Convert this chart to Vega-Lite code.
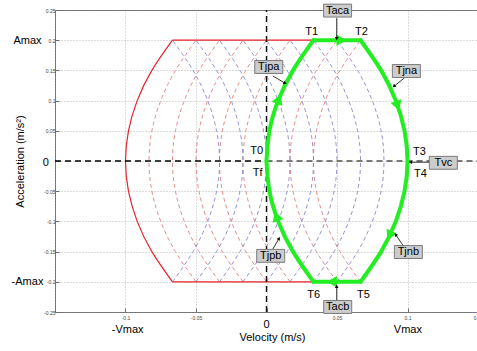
{
  "$schema": "https://vega.github.io/schema/vega-lite/v6.json",
  "width": 423,
  "height": 302,
  "autosize": "none",
  "padding": {"left": 55, "top": 10, "right": 0, "bottom": 39},
  "background": "white",
  "config": {
    "font": "Liberation Sans",
    "view": {"stroke": "#6e6e6e", "strokeWidth": 1}
  },
  "datasets": {
    "reds": [
      {"c": "r1", "a": -0.2, "v": -0.05}, {"c": "r1", "a": -0.15, "v": -0.0646}, {"c": "r1", "a": -0.1, "v": -0.075}, {"c": "r1", "a": -0.05, "v": -0.0813}, {"c": "r1", "a": 0, "v": -0.0833}, {"c": "r1", "a": 0.05, "v": -0.0813}, {"c": "r1", "a": 0.1, "v": -0.075}, {"c": "r1", "a": 0.15, "v": -0.0646}, {"c": "r1", "a": 0.2, "v": -0.05},
      {"c": "r2", "a": -0.2, "v": -0.0333}, {"c": "r2", "a": -0.15, "v": -0.0479}, {"c": "r2", "a": -0.1, "v": -0.0583}, {"c": "r2", "a": -0.05, "v": -0.0646}, {"c": "r2", "a": 0, "v": -0.0667}, {"c": "r2", "a": 0.05, "v": -0.0646}, {"c": "r2", "a": 0.1, "v": -0.0583}, {"c": "r2", "a": 0.15, "v": -0.0479}, {"c": "r2", "a": 0.2, "v": -0.0333},
      {"c": "r3", "a": -0.2, "v": -0.0167}, {"c": "r3", "a": -0.15, "v": -0.0313}, {"c": "r3", "a": -0.1, "v": -0.0417}, {"c": "r3", "a": -0.05, "v": -0.0479}, {"c": "r3", "a": 0, "v": -0.05}, {"c": "r3", "a": 0.05, "v": -0.0479}, {"c": "r3", "a": 0.1, "v": -0.0417}, {"c": "r3", "a": 0.15, "v": -0.0313}, {"c": "r3", "a": 0.2, "v": -0.0167},
      {"c": "r4", "a": -0.2, "v": 0}, {"c": "r4", "a": -0.15, "v": -0.0146}, {"c": "r4", "a": -0.1, "v": -0.025}, {"c": "r4", "a": -0.05, "v": -0.0313}, {"c": "r4", "a": 0, "v": -0.0333}, {"c": "r4", "a": 0.05, "v": -0.0313}, {"c": "r4", "a": 0.1, "v": -0.025}, {"c": "r4", "a": 0.15, "v": -0.0146}, {"c": "r4", "a": 0.2, "v": 0},
      {"c": "r5", "a": -0.2, "v": 0.0167}, {"c": "r5", "a": -0.15, "v": 0.0021}, {"c": "r5", "a": -0.1, "v": -0.0083}, {"c": "r5", "a": -0.05, "v": -0.0146}, {"c": "r5", "a": 0, "v": -0.0167}, {"c": "r5", "a": 0.05, "v": -0.0146}, {"c": "r5", "a": 0.1, "v": -0.0083}, {"c": "r5", "a": 0.15, "v": 0.0021}, {"c": "r5", "a": 0.2, "v": 0.0167},
      {"c": "r6", "a": -0.2, "v": 0.0333}, {"c": "r6", "a": -0.15, "v": 0.0188}, {"c": "r6", "a": -0.1, "v": 0.0083}, {"c": "r6", "a": -0.05, "v": 0.0021}, {"c": "r6", "a": 0, "v": 0}, {"c": "r6", "a": 0.05, "v": 0.0021}, {"c": "r6", "a": 0.1, "v": 0.0083}, {"c": "r6", "a": 0.15, "v": 0.0188}, {"c": "r6", "a": 0.2, "v": 0.0333},
      {"c": "r7", "a": -0.2, "v": 0.05}, {"c": "r7", "a": -0.15, "v": 0.0354}, {"c": "r7", "a": -0.1, "v": 0.025}, {"c": "r7", "a": -0.05, "v": 0.0188}, {"c": "r7", "a": 0, "v": 0.0167}, {"c": "r7", "a": 0.05, "v": 0.0188}, {"c": "r7", "a": 0.1, "v": 0.025}, {"c": "r7", "a": 0.15, "v": 0.0354}, {"c": "r7", "a": 0.2, "v": 0.05},
      {"c": "r8", "a": -0.2, "v": 0.0667}, {"c": "r8", "a": -0.15, "v": 0.0521}, {"c": "r8", "a": -0.1, "v": 0.0417}, {"c": "r8", "a": -0.05, "v": 0.0354}, {"c": "r8", "a": 0, "v": 0.0333}, {"c": "r8", "a": 0.05, "v": 0.0354}, {"c": "r8", "a": 0.1, "v": 0.0417}, {"c": "r8", "a": 0.15, "v": 0.0521}, {"c": "r8", "a": 0.2, "v": 0.0667}
    ],
    "blues": [
      {"c": "b1", "a": -0.2, "v": -0.0667}, {"c": "b1", "a": -0.15, "v": -0.0521}, {"c": "b1", "a": -0.1, "v": -0.0417}, {"c": "b1", "a": -0.05, "v": -0.0354}, {"c": "b1", "a": 0, "v": -0.0333}, {"c": "b1", "a": 0.05, "v": -0.0354}, {"c": "b1", "a": 0.1, "v": -0.0417}, {"c": "b1", "a": 0.15, "v": -0.0521}, {"c": "b1", "a": 0.2, "v": -0.0667},
      {"c": "b2", "a": -0.2, "v": -0.05}, {"c": "b2", "a": -0.15, "v": -0.0354}, {"c": "b2", "a": -0.1, "v": -0.025}, {"c": "b2", "a": -0.05, "v": -0.0188}, {"c": "b2", "a": 0, "v": -0.0167}, {"c": "b2", "a": 0.05, "v": -0.0188}, {"c": "b2", "a": 0.1, "v": -0.025}, {"c": "b2", "a": 0.15, "v": -0.0354}, {"c": "b2", "a": 0.2, "v": -0.05},
      {"c": "b3", "a": -0.2, "v": -0.0333}, {"c": "b3", "a": -0.15, "v": -0.0188}, {"c": "b3", "a": -0.1, "v": -0.0083}, {"c": "b3", "a": -0.05, "v": -0.0021}, {"c": "b3", "a": 0, "v": 0}, {"c": "b3", "a": 0.05, "v": -0.0021}, {"c": "b3", "a": 0.1, "v": -0.0083}, {"c": "b3", "a": 0.15, "v": -0.0188}, {"c": "b3", "a": 0.2, "v": -0.0333},
      {"c": "b4", "a": -0.2, "v": -0.0167}, {"c": "b4", "a": -0.15, "v": -0.0021}, {"c": "b4", "a": -0.1, "v": 0.0083}, {"c": "b4", "a": -0.05, "v": 0.0146}, {"c": "b4", "a": 0, "v": 0.0167}, {"c": "b4", "a": 0.05, "v": 0.0146}, {"c": "b4", "a": 0.1, "v": 0.0083}, {"c": "b4", "a": 0.15, "v": -0.0021}, {"c": "b4", "a": 0.2, "v": -0.0167},
      {"c": "b5", "a": -0.2, "v": 0}, {"c": "b5", "a": -0.15, "v": 0.0146}, {"c": "b5", "a": -0.1, "v": 0.025}, {"c": "b5", "a": -0.05, "v": 0.0313}, {"c": "b5", "a": 0, "v": 0.0333}, {"c": "b5", "a": 0.05, "v": 0.0313}, {"c": "b5", "a": 0.1, "v": 0.025}, {"c": "b5", "a": 0.15, "v": 0.0146}, {"c": "b5", "a": 0.2, "v": 0},
      {"c": "b6", "a": -0.2, "v": 0.0167}, {"c": "b6", "a": -0.15, "v": 0.0313}, {"c": "b6", "a": -0.1, "v": 0.0417}, {"c": "b6", "a": -0.05, "v": 0.0479}, {"c": "b6", "a": 0, "v": 0.05}, {"c": "b6", "a": 0.05, "v": 0.0479}, {"c": "b6", "a": 0.1, "v": 0.0417}, {"c": "b6", "a": 0.15, "v": 0.0313}, {"c": "b6", "a": 0.2, "v": 0.0167},
      {"c": "b7", "a": -0.2, "v": 0.0333}, {"c": "b7", "a": -0.15, "v": 0.0479}, {"c": "b7", "a": -0.1, "v": 0.0583}, {"c": "b7", "a": -0.05, "v": 0.0646}, {"c": "b7", "a": 0, "v": 0.0667}, {"c": "b7", "a": 0.05, "v": 0.0646}, {"c": "b7", "a": 0.1, "v": 0.0583}, {"c": "b7", "a": 0.15, "v": 0.0479}, {"c": "b7", "a": 0.2, "v": 0.0333},
      {"c": "b8", "a": -0.2, "v": 0.05}, {"c": "b8", "a": -0.15, "v": 0.0646}, {"c": "b8", "a": -0.1, "v": 0.075}, {"c": "b8", "a": -0.05, "v": 0.0813}, {"c": "b8", "a": 0, "v": 0.0833}, {"c": "b8", "a": 0.05, "v": 0.0813}, {"c": "b8", "a": 0.1, "v": 0.075}, {"c": "b8", "a": 0.15, "v": 0.0646}, {"c": "b8", "a": 0.2, "v": 0.05}
    ],
    "envelope": [
      {"c": "left", "a": -0.2, "v": -0.0667}, {"c": "left", "a": -0.15, "v": -0.0813}, {"c": "left", "a": -0.1, "v": -0.0917}, {"c": "left", "a": -0.05, "v": -0.0979}, {"c": "left", "a": 0, "v": -0.1}, {"c": "left", "a": 0.05, "v": -0.0979}, {"c": "left", "a": 0.1, "v": -0.0917}, {"c": "left", "a": 0.15, "v": -0.0813}, {"c": "left", "a": 0.2, "v": -0.0667},
      {"c": "top", "a": 0.2, "v": -0.0667}, {"c": "top", "a": 0.2, "v": 0.0667},
      {"c": "bottom", "a": -0.2, "v": -0.0667}, {"c": "bottom", "a": -0.2, "v": 0.0667}
    ],
    "trajectory": [
      {"c": "s1", "a": 0, "v": 0}, {"c": "s1", "a": 0.05, "v": 0.0021}, {"c": "s1", "a": 0.1, "v": 0.0083}, {"c": "s1", "a": 0.15, "v": 0.0188}, {"c": "s1", "a": 0.2, "v": 0.0333},
      {"c": "s2", "a": 0.2, "v": 0.0333}, {"c": "s2", "a": 0.2, "v": 0.0667},
      {"c": "s3", "a": 0.2, "v": 0.0667}, {"c": "s3", "a": 0.15, "v": 0.0813}, {"c": "s3", "a": 0.1, "v": 0.0917}, {"c": "s3", "a": 0.05, "v": 0.0979}, {"c": "s3", "a": 0, "v": 0.1}, {"c": "s3", "a": -0.05, "v": 0.0979}, {"c": "s3", "a": -0.1, "v": 0.0917}, {"c": "s3", "a": -0.15, "v": 0.0813}, {"c": "s3", "a": -0.2, "v": 0.0667},
      {"c": "s4", "a": -0.2, "v": 0.0667}, {"c": "s4", "a": -0.2, "v": 0.0333},
      {"c": "s5", "a": -0.2, "v": 0.0333}, {"c": "s5", "a": -0.15, "v": 0.0188}, {"c": "s5", "a": -0.1, "v": 0.0083}, {"c": "s5", "a": -0.05, "v": 0.0021}, {"c": "s5", "a": 0, "v": 0}
    ],
    "axesLines": [
      {"k": "left", "v": -0.15, "v2": 0, "a": 0, "a2": 0},
      {"k": "right", "v": 0, "v2": 0.15, "a": 0, "a2": 0},
      {"k": "vertical", "v": 0, "v2": 0, "a": -0.25, "a2": 0.25}
    ],
    "heads": [
      {"v": 0.0083, "a": 0.1, "ang": 21},
      {"v": 0.052, "a": 0.2, "ang": 90},
      {"v": 0.0926, "a": 0.094, "ang": 160},
      {"v": 0.0878, "a": -0.121, "ang": 205},
      {"v": 0.0476, "a": -0.2, "ang": 270},
      {"v": 0.0074, "a": -0.094, "ang": 340}
    ],
    "pointers": [
      {"v": 0.0498, "a": 0.2368, "v2": 0.0498, "a2": 0.2037, "ang": 180},
      {"v": 0.0045, "a": 0.1408, "v2": 0.0129, "a2": 0.1292, "ang": 120},
      {"v": 0.0978, "a": 0.1375, "v2": 0.0907, "a2": 0.1242, "ang": 231},
      {"v": 0.1169, "a": -0.002, "v2": 0.1025, "a2": -0.002, "ang": 270},
      {"v": 0.0976, "a": -0.1424, "v2": 0.0918, "a2": -0.1225, "ang": 324},
      {"v": 0.0498, "a": -0.2318, "v2": 0.0498, "a2": -0.2086, "ang": 0},
      {"v": 0.0045, "a": -0.1457, "v2": 0.0087, "a2": -0.1291, "ang": 31}
    ],
    "boxes": [
      {"t": "Taca", "v": 0.0504, "a": 0.249},
      {"t": "Tjpa", "v": 0.0016, "a": 0.1556},
      {"t": "Tjna", "v": 0.0992, "a": 0.149},
      {"t": "Tvc", "v": 0.1254, "a": -0.003},
      {"t": "Tjnb", "v": 0.1006, "a": -0.1507},
      {"t": "Tacb", "v": 0.0505, "a": -0.2417},
      {"t": "Tjpb", "v": 0.003, "a": -0.157}
    ],
    "labels": [
      {"t": "T0", "v": -0.0069, "a": 0.0166},
      {"t": "Tf", "v": -0.0062, "a": -0.0199},
      {"t": "T1", "v": 0.032, "a": 0.2136},
      {"t": "T2", "v": 0.0674, "a": 0.2136},
      {"t": "T3", "v": 0.1084, "a": 0.0149},
      {"t": "T4", "v": 0.1091, "a": -0.0215},
      {"t": "T5", "v": 0.0688, "a": -0.2219},
      {"t": "T6", "v": 0.0334, "a": -0.2219},
      {"t": "Amax", "v": -0.1695, "a": 0.199},
      {"t": "0", "v": -0.1566, "a": -0.004},
      {"t": "-Amax", "v": -0.1695, "a": -0.2},
      {"t": "-Vmax", "v": -0.0985, "a": -0.2799},
      {"t": "0", "v": 0, "a": -0.2707},
      {"t": "Vmax", "v": 0.1003, "a": -0.279}
    ]
  },
  "encoding": {
    "x": {
      "field": "v",
      "type": "quantitative",
      "scale": {"domain": [-0.15, 0.15], "nice": false, "zero": false},
      "axis": {
        "values": [-0.15, -0.1, -0.05, 0, 0.05, 0.1, 0.15],
        "labelExpr": "datum.value == 0 || datum.value == -0.15 ? '' : datum.value + ''",
        "title": "Velocity (m/s)",
        "titleFontSize": 11,
        "titleFontWeight": "normal",
        "titleColor": "#000000",
        "titleX": 217,
        "titleY": 25,
        "titleBaseline": "middle",
        "titleAlign": "center",
        "labelFontSize": 5,
        "labelColor": "#444444",
        "labelPadding": 7,
        "labelFlush": false,
        "labelOverlap": false,
        "domain": false,
        "tickSize": -4,
        "tickColor": "#6e6e6e",
        "grid": true,
        "gridDash": [1, 2],
        "gridColor": "#9a9a9a",
        "gridWidth": 0.7
      }
    },
    "y": {
      "field": "a",
      "type": "quantitative",
      "scale": {"domain": [-0.25, 0.25], "nice": false, "zero": false},
      "axis": {
        "values": [-0.25, -0.2, -0.15, -0.1, -0.05, 0, 0.05, 0.1, 0.15, 0.2, 0.25],
        "labelExpr": "datum.value == 0 ? '' : datum.value + ''",
        "title": "Acceleration (m/s²)",
        "titleFontSize": 11,
        "titleFontWeight": "normal",
        "titleColor": "#000000",
        "titleAngle": -90,
        "titleX": -35,
        "titleY": 151,
        "titleBaseline": "middle",
        "titleAlign": "center",
        "labelFontSize": 5,
        "labelColor": "#444444",
        "labelPadding": 4,
        "labelFlush": false,
        "labelOverlap": false,
        "domain": false,
        "tickSize": -4,
        "tickColor": "#6e6e6e",
        "grid": true,
        "gridDash": [1, 2],
        "gridColor": "#9a9a9a",
        "gridWidth": 0.7
      }
    }
  },
  "layer": [
    {
      "data": {"name": "reds"},
      "mark": {"type": "line", "interpolate": "natural", "color": "#e07070", "strokeWidth": 0.8, "strokeDash": [4, 3]},
      "encoding": {"detail": {"field": "c"}, "order": {"field": "a", "type": "quantitative"}}
    },
    {
      "data": {"name": "blues"},
      "mark": {"type": "line", "interpolate": "natural", "color": "#7878cc", "strokeWidth": 0.8, "strokeDash": [4, 3]},
      "encoding": {"detail": {"field": "c"}, "order": {"field": "a", "type": "quantitative"}}
    },
    {
      "data": {"name": "envelope"},
      "mark": {"type": "line", "interpolate": "natural", "color": "#e4232a", "strokeWidth": 1.2},
      "encoding": {"detail": {"field": "c"}, "order": {"field": "a", "type": "quantitative"}}
    },
    {
      "data": {"name": "axesLines"},
      "mark": {"type": "rule", "strokeWidth": 1.4, "strokeDash": [6, 4]},
      "encoding": {
        "x2": {"field": "v2"},
        "y2": {"field": "a2"},
        "color": {"field": "k", "type": "nominal", "scale": {"domain": ["left", "right", "vertical"], "range": ["#000000", "#505050", "#111111"]}, "legend": null}
      }
    },
    {
      "data": {"name": "trajectory"},
      "mark": {"type": "line", "interpolate": "natural", "color": "#22ee22", "strokeWidth": 4, "strokeCap": "round", "strokeJoin": "round"},
      "encoding": {"detail": {"field": "c"}, "order": {"field": "a", "type": "quantitative"}}
    },
    {
      "data": {"name": "heads"},
      "mark": {"type": "point", "shape": "triangle", "filled": true, "color": "#22ee22", "size": 130, "opacity": 1},
      "encoding": {"angle": {"field": "ang", "type": "quantitative", "scale": null}}
    },
    {
      "data": {"name": "pointers"},
      "mark": {"type": "rule", "color": "#000000", "strokeWidth": 0.8},
      "encoding": {"x2": {"field": "v2"}, "y2": {"field": "a2"}}
    },
    {
      "data": {"name": "pointers"},
      "mark": {"type": "point", "shape": "triangle", "filled": true, "color": "#000000", "size": 14, "opacity": 1},
      "encoding": {
        "x": {"field": "v2", "type": "quantitative"},
        "y": {"field": "a2", "type": "quantitative"},
        "angle": {"field": "ang", "type": "quantitative", "scale": null}
      }
    },
    {
      "data": {"name": "boxes"},
      "mark": {"type": "point", "shape": "M-1,-0.46H1V0.46H-1Z", "filled": true, "fill": "#cccccc", "stroke": "#7a7a7a", "strokeWidth": 1, "size": 784, "opacity": 1}
    },
    {
      "data": {"name": "boxes"},
      "mark": {"type": "text", "fontSize": 11, "color": "#000000", "align": "center", "baseline": "middle"},
      "encoding": {"text": {"field": "t"}}
    },
    {
      "data": {"name": "labels"},
      "mark": {"type": "text", "fontSize": 11, "color": "#000000", "align": "center", "baseline": "middle"},
      "encoding": {"text": {"field": "t"}}
    }
  ]
}
